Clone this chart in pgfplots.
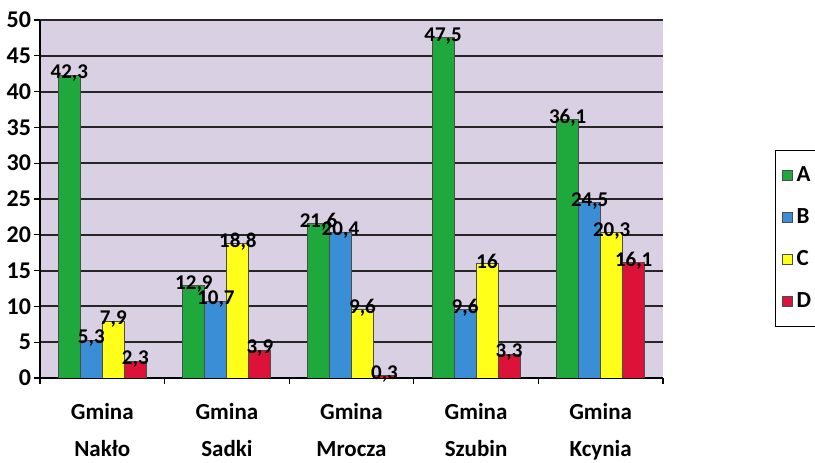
\documentclass[border=0pt]{standalone}
\usepackage{fontspec}
\setmainfont{Carlito}
\usepackage{pgfplots}
\pgfplotsset{compat=1.18}
\definecolor{bgc}{HTML}{D9D1E3}
\definecolor{cA}{HTML}{1FA83C}
\definecolor{cB}{HTML}{3A8ED6}
\definecolor{cC}{HTML}{FFFF1A}
\definecolor{cD}{HTML}{DD1238}
\begin{document}
\begin{tikzpicture}
\begin{axis}[
  scale only axis, width=311.5pt, height=179pt,
  ymin=0, ymax=50, ytick={0,5,...,50},
  xmin=-0.5, xmax=4.5,
  xtick={0,1,2,3,4},
  xticklabels={{Gmina\\Nakło},{Gmina\\Sadki},{Gmina\\Mrocza},{Gmina\\Szubin},{Gmina\\Kcynia}},
  xticklabel style={align=center, font=\fontsize{11.5}{18.5}\selectfont\bfseries, yshift=-6pt},
  yticklabel style={font=\fontsize{12}{13}\selectfont\bfseries, xshift=2pt},
  minor xtick={-0.5,0.5,1.5,2.5,3.5,4.5},
  major x tick style={draw=none},
  ymajorgrids, grid style={black!85, line width=1pt},
  axis lines*=left, axis line style={black, line width=0.6pt},
  tick align=outside, tick style={black, line width=0.6pt},
  major tick length=3pt, minor tick length=3pt,
  axis background/.style={fill=bgc},
  ybar=0pt, bar width=11pt,
  nodes near coords,
  nodes near coords style={font=\fontsize{10.5}{12}\selectfont\bfseries, anchor=center, text=black, yshift=1pt},
  /pgf/number format/use comma,
  /pgf/number format/assume math mode=true,
  legend style={at={(1.18,0.637)}, anchor=north west, draw=black, line width=0.6pt, fill=white,
    font=\fontsize{11.5}{13}\selectfont\bfseries, row sep=8pt, inner ysep=6pt, inner xsep=3pt},
  legend cell align=left,
  legend image code/.code={\draw[#1, draw=black!70, line width=0.5pt] (0pt,-2.5pt) rectangle (5pt,2.5pt);},
]
\addplot[fill=cA, draw=black!70] coordinates {(0,42.3) (1,12.9) (2,21.6) (3,47.5) (4,36.1)};
\addplot[fill=cB, draw=black!70] coordinates {(0,5.3) (1,10.7) (2,20.4) (3,9.6) (4,24.5)};
\addplot[fill=cC, draw=black!70] coordinates {(0,7.9) (1,18.8) (2,9.6) (3,16) (4,20.3)};
\addplot[fill=cD, draw=black!70] coordinates {(0,2.3) (1,3.9) (2,0.3) (3,3.3) (4,16.1)};
\legend{A,B,C,D}
\coordinate (sw) at (rel axis cs:0,0);
\coordinate (nw) at (rel axis cs:0,1);
\end{axis}
\pgfresetboundingbox
\path[use as bounding box] ([shift={(-20pt,-42.5pt)}]sw) rectangle ([shift={(387.5pt,10pt)}]nw);
\end{tikzpicture}
\end{document}
